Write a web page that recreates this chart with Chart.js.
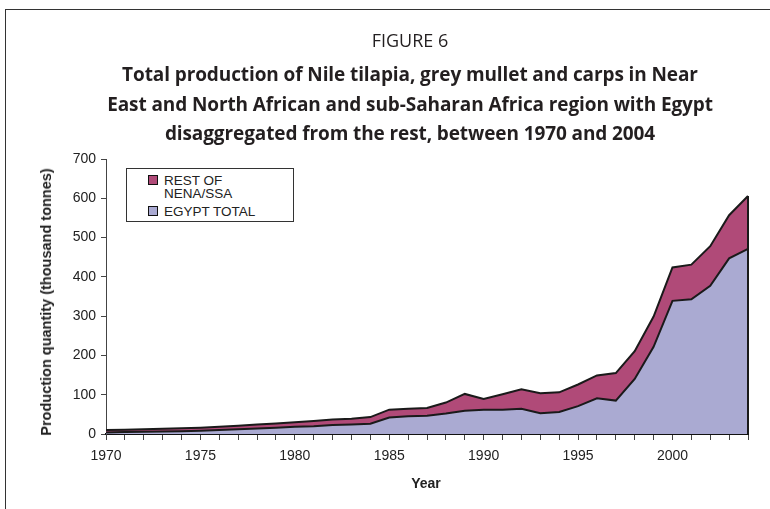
<!DOCTYPE html>
<html>
<head>
<meta charset="utf-8">
<script src="https://cdn.jsdelivr.net/npm/chart.js@4/dist/chart.umd.min.js"></script>
<style>
  html, body { margin: 0; padding: 0; background: #fff; }
  #wrap { position: relative; width: 770px; height: 509px; overflow: hidden; background: #fff; }
  #frame { position: absolute; left: 5px; top: 9px; width: 800px; height: 600px; border-left: 1px solid #333; border-top: 1px solid #333; }
  canvas { position: absolute; left: 0; top: 0; }
  .t { position: absolute; left: 5px; width: 810px; text-align: center; font-family: "Open Sans", sans-serif; color: #231f20; white-space: nowrap; }
  #fig { top: 28px; font-size: 18px; line-height: 24px; }
  .b { font-weight: 700; font-size: 19px; line-height: 30px; letter-spacing: -0.1px; }
  #l1 { top: 59px; } #l2 { top: 89px; } #l3 { top: 118px; }
  #ytitle { position: absolute; left: 46px; top: 302px; transform: translate(-50%, -50%) rotate(-90deg); font-family: "Liberation Sans", Arial, sans-serif; font-weight: 700; font-size: 14.5px; color: #222; white-space: nowrap; }
  #xtitle { position: absolute; left: 426px; top: 475px; transform: translateX(-50%); font-family: "Liberation Sans", Arial, sans-serif; font-weight: 700; font-size: 14px; color: #222; }
  #legend { position: absolute; left: 126px; top: 168px; width: 166px; height: 52px; border: 1px solid #333; background: #fff; font-family: "Liberation Sans", Arial, sans-serif; font-size: 13.5px; color: #222; line-height: 13px; }
  .item { position: absolute; left: 21px; }
  .sw { position: absolute; left: 0; top: 1px; width: 8px; height: 8px; border: 1.5px solid #111; }
  .lab { position: absolute; left: 16px; top: 0; white-space: nowrap; }
</style>
</head>
<body>
<div id="wrap">
  <div id="frame"></div>
  <canvas id="c" width="770" height="509"></canvas>
  <div class="t" id="fig">FIGURE 6</div>
  <div class="t b" id="l1">Total production of Nile tilapia, grey mullet and carps in Near</div>
  <div class="t b" id="l2">East and North African and sub-Saharan Africa region with Egypt</div>
  <div class="t b" id="l3">disaggregated from the rest, between 1970 and 2004</div>
  <div id="ytitle">Production quantity (thousand tonnes)</div>
  <div id="xtitle">Year</div>
  <div id="legend">
    <div class="item" style="top:5px"><div class="sw" style="background:#b04a78"></div><div class="lab">REST OF<br>NENA/SSA</div></div>
    <div class="item" style="top:36px"><div class="sw" style="background:#aaaad2"></div><div class="lab">EGYPT TOTAL</div></div>
  </div>
</div>
<script>
const years = [1970,1971,1972,1973,1974,1975,1976,1977,1978,1979,1980,1981,1982,1983,1984,1985,1986,1987,1988,1989,1990,1991,1992,1993,1994,1995,1996,1997,1998,1999,2000,2001,2002,2003,2004];
const egyptTotal = [4,5,6,6.5,7,8,10,12,14,16,18.5,20,23,24,26,42,45,46.5,52,59,62,62,64,53,56,71,91,85,140,222,339,343,377,447,471];
const restOfNenaSsa = [6,6,6,7,7.5,8,8.5,9,10,11,11.5,13,14,15,17,20,19,19.5,28,43,27,39,50,51,50,55,58,70,71,77,85,88,101,110,135];
const yTicks = [0,100,200,300,400,500,600,700];
const xTickYears = [1970,1975,1980,1985,1990,1995,2000];

const edgePlugin = {
  id: 'edge',
  afterDatasetsDraw(chart) {
    const x = chart.scales.x, y = chart.scales.y;
    const i = years.length - 1;
    const px = x.getPixelForValue(i);
    const top = y.getPixelForValue(egyptTotal[i] + restOfNenaSsa[i]);
    const bot = y.getPixelForValue(0);
    const ctx = chart.ctx;
    ctx.save();
    ctx.strokeStyle = '#1a1a1a';
    ctx.lineWidth = 2;
    ctx.beginPath(); ctx.moveTo(px, top); ctx.lineTo(px, bot); ctx.stroke();
    ctx.restore();
  }
};

new Chart(document.getElementById('c'), {
  type: 'line',
  data: {
    labels: years.map(String),
    datasets: [
      { label: 'EGYPT TOTAL', data: egyptTotal, backgroundColor: '#aaaad2', borderColor: '#1a1a1a', borderWidth: 2, fill: 'origin', pointRadius: 0, tension: 0 },
      { label: 'REST OF NENA/SSA', data: restOfNenaSsa, backgroundColor: '#b04a78', borderColor: '#1a1a1a', borderWidth: 2, fill: '-1', pointRadius: 0, tension: 0 }
    ]
  },
  options: {
    responsive: false,
    animation: false,
    events: [],
    layout: { padding: { left: 46, top: 159, right: 22, bottom: 35 } },
    plugins: { legend: { display: false }, title: { display: false }, tooltip: { enabled: false } },
    scales: {
      x: {
        offset: false,
        afterFit(s) { s.height = 40; },
        grid: { display: true, drawOnChartArea: false, drawTicks: true, tickLength: 6, color: '#444', lineWidth: 1 },
        border: { display: true, color: '#111', width: 2 },
        ticks: { autoSkip: false, maxRotation: 0, padding: 8, color: '#222', font: { family: 'Liberation Sans', size: 14 },
          callback(v, i) { const yr = years[i]; return xTickYears.includes(yr) ? String(yr) : ''; } }
      },
      y: {
        stacked: true,
        min: 0, max: 700,
        afterFit(s) { s.width = 60; },
        afterBuildTicks(s) { s.ticks = yTicks.map(v => ({ value: v })); },
        grid: { display: true, drawOnChartArea: false, drawTicks: true, tickLength: 5, color: '#444', lineWidth: 1 },
        border: { display: true, color: '#444', width: 1 },
        ticks: { padding: 5, color: '#222', font: { family: 'Liberation Sans', size: 14 } }
      }
    }
  },
  plugins: [edgePlugin]
});
</script>
</body>
</html>
